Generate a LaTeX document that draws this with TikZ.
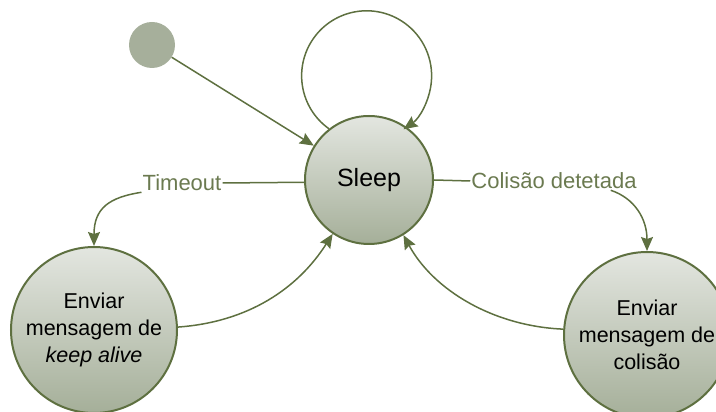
\documentclass[tikz,border=0pt]{standalone}
\usepackage{fontspec}
\setmainfont{Liberation Sans}
\usetikzlibrary{arrows.meta}

\definecolor{edgegreen}{HTML}{5E7040}
\definecolor{labelgreen}{HTML}{6B7A50}
\definecolor{fillTop}{HTML}{E3E6E0}
\definecolor{fillBot}{HTML}{A5AF99}
\definecolor{initfill}{HTML}{A6AF9B}

\begin{document}
\begin{tikzpicture}[x=1pt,y=1pt,
  state/.style={circle, draw=edgegreen, line width=2pt,
    top color=fillTop, bottom color=fillBot,
    align=center, inner sep=0pt},
  initial/.style={circle, fill=initfill, inner sep=0pt, minimum size=46pt},
  flow/.style={draw=edgegreen, line width=1.5pt,
    -{Stealth[length=14pt,width=12pt,inset=2pt]}},
  link/.style={draw=edgegreen, line width=1.5pt},
  lbl/.style={text=labelgreen, font=\fontsize{22}{26}\selectfont, inner sep=1pt}]

\useasboundingbox (0,0) rectangle (716,412);

% states
\node[initial] (init) at (152,367) {};
\node[state, minimum size=128pt, font=\fontsize{25}{30}\selectfont] (sleep) at (369,232) {Sleep};
\node[state, minimum size=166pt, font=\fontsize{21.5}{27}\selectfont] (alive) at (94,82)
  {Enviar\\mensagem de\\\textit{keep alive}};
\node[state, minimum size=166pt, font=\fontsize{21.5}{27}\selectfont] (coll) at (647,77)
  {Enviar\\mensagem de\\colisão};

% edge labels
\node[lbl] (tlabel) at (182,229) {Timeout};
\node[lbl] (clabel) at (554,231) {Colisão detetada};

% initial transition
\draw[flow] (init) -- (sleep);

% self loop on Sleep
\draw[flow] (sleep.128) arc[start angle=234.6, end angle=-55.4, radius=65];

% Sleep -> keep alive
\draw[link] (sleep.182) -- (tlabel.east);
\draw[flow] (tlabel.south west) .. controls +(-32,-5) and +(0,38) .. (alive.north);

% Sleep -> collision message
\draw[link] (sleep.east) -- (clabel.west);
\draw[flow] ([xshift=-27pt]clabel.south east) .. controls +(24,-8) and +(0,32) .. (coll.north);

% back to Sleep
\draw[flow] (alive.2) .. controls +(70,5) and +(-35,-55) .. (sleep.236);
\draw[flow] (coll.176) .. controls +(-70,3) and +(30,-55) .. (sleep.302);

\end{tikzpicture}
\end{document}
